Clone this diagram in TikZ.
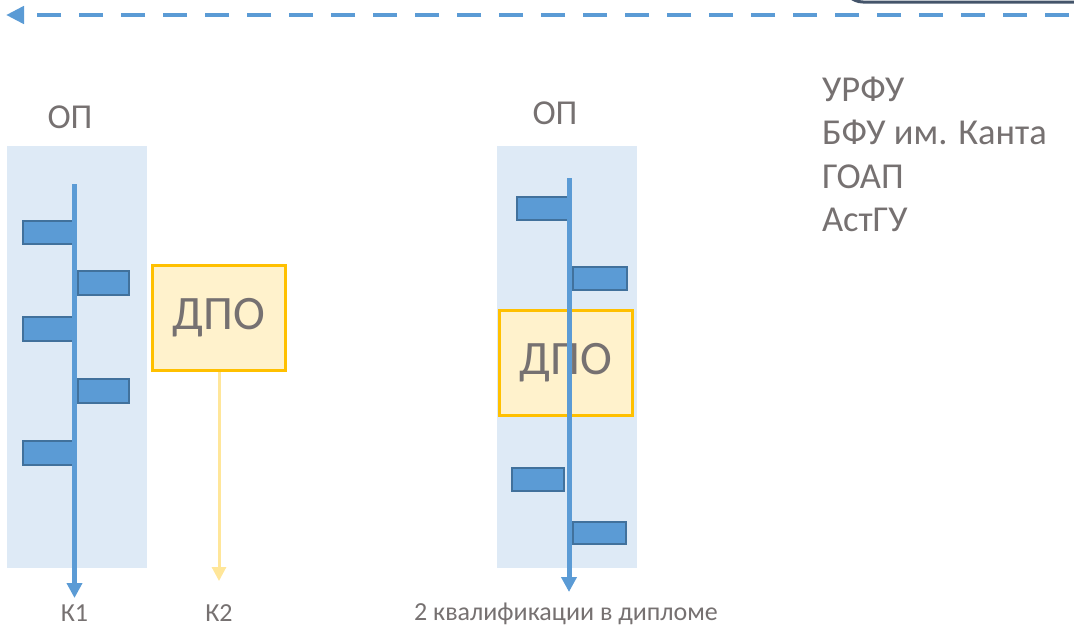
\documentclass[tikz,border=0pt]{standalone}
\usepackage{fontspec}
\setmainfont{Carlito}
\usetikzlibrary{arrows.meta,positioning}
\definecolor{opbackground}{HTML}{DEEAF6}
\definecolor{barblue}{HTML}{5B9BD5}
\definecolor{bardark}{HTML}{41719C}
\definecolor{dpofill}{HTML}{FFF2CC}
\definecolor{dpoedge}{HTML}{FFC000}
\definecolor{dpoarrow}{HTML}{FFE699}
\definecolor{textgray}{HTML}{767171}
\definecolor{slateedge}{HTML}{44546A}

\begin{document}
\begin{tikzpicture}[x=1pt,y=-1pt,
    bar/.style={fill=barblue,draw=bardark,line width=2pt},
    axis/.style={barblue,line width=5pt,-{Triangle[length=15pt,width=15pt]}},
    dpo/.style={fill=dpofill,draw=dpoedge,line width=3pt,minimum width=133pt,
        minimum height=105pt,inner sep=0pt,text=textgray,
        font=\fontsize{48}{48}\selectfont},
    optitle/.style={text=textgray,anchor=base,inner sep=0pt,
        font=\fontsize{35}{35}\selectfont},
    uni/.style={text=textgray,anchor=base west,inner sep=0pt,
        font=\fontsize{36.5}{36.5}\selectfont},
    result/.style={text=textgray,anchor=base,inner sep=0pt,
        font=\fontsize{26}{26}\selectfont}]

    \useasboundingbox (0,0) rectangle (1074,627);
    \clip (0,0) rectangle (1074,627);

    % top of the frame and the dashed time line
    \draw[slateedge,line width=3pt,rounded corners=20pt](843,-60) -- (843,2) -- (1100,2);
    \coordinate (flow start) at (1074,15);
    \coordinate (flow end) at (6,15);
    \draw[barblue,line width=4.5pt,dash pattern=on 24pt off 18pt,dash phase=37pt,
        -{Triangle[length=18pt,width=17pt]}] (flow start) -- (flow end);

    % left programme
    \fill[opbackground](7,146) rectangle (147,568);
    \node[optitle] (opL) at (70,128) {ОП};

    \draw[bar](23,221) rectangle (74,244);
    \draw[bar](78,271) rectangle (129,295);
    \draw[bar](23,317) rectangle (74,341);
    \draw[bar](78,379) rectangle (129,403);
    \draw[bar](23,441) rectangle (74,465);

    \coordinate (axL top) at (74.5,184);
    \coordinate (axL end) at (74.5,598);
    \draw[axis] (axL top) -- (axL end);
    \node[result] (k1) at (74.5,621) {К1};

    \node[dpo] (dpoL) at (219,318) {ДПО};
    \coordinate (dpoL end) at (219,581);
    \draw[dpoarrow,line width=3pt,-{Triangle[length=14pt,width=14pt]}] (dpoL.south) -- (dpoL end);
    \node[result] (k2) at (219,621) {К2};

    % right programme
    \fill[opbackground](497,146) rectangle (637,568);
    \node[optitle] (opR) at (555,124) {ОП};

    \draw[bar](517,197) rectangle (569,220);
    \draw[bar](573,267) rectangle (627,290);
    \node[dpo] (dpoR) at (566,362.5) {ДПО};
    \draw[bar](512,468) rectangle (564,491);
    \draw[bar](573,522) rectangle (626,544);

    \coordinate (axR top) at (569,178);
    \coordinate (axR end) at (569,592);
    \draw[axis] (axR top) -- (axR end);
    \node[result] (k12) at (566,620) {2 квалификации в дипломе};

    % universities
    \node[uni] (urfu) at (822,101) {УРФУ};
    \node[uni] (bfu) at (822,144.5) {БФУ им. Канта};
    \node[uni] (goap) at (822,188) {ГОАП};
    \node[uni] (astgu) at (822,231.5) {АстГУ};
\end{tikzpicture}
\end{document}
